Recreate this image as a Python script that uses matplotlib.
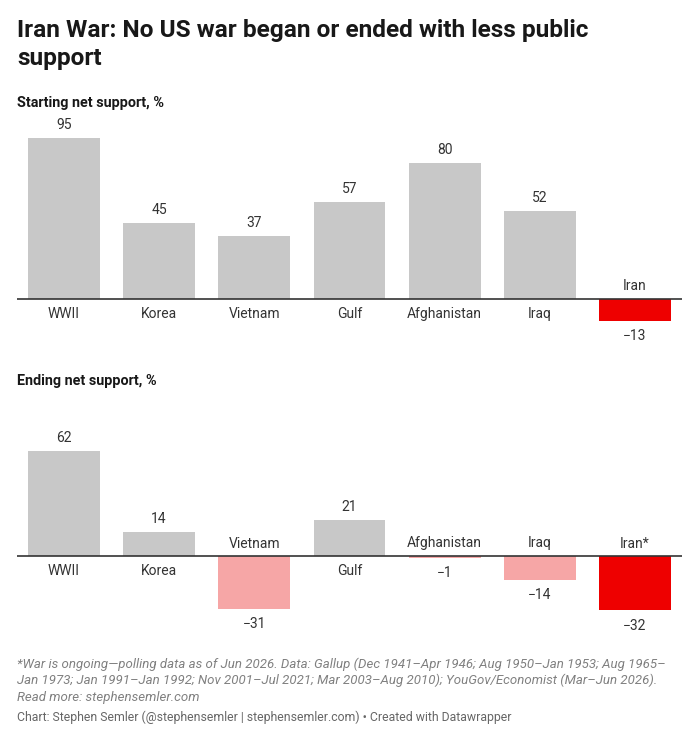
import matplotlib.pyplot as plt

plt.rcParams['font.family'] = ['Roboto', 'DejaVu Sans']

wars = ['WWII', 'Korea', 'Vietnam', 'Gulf', 'Afghanistan', 'Iraq', 'Iran']
start_support = [95, 45, 37, 57, 80, 52, -13]
end_support = [62, 14, -31, 21, -1, -14, -32]
end_labels = ['WWII', 'Korea', 'Vietnam', 'Gulf', 'Afghanistan', 'Iraq', 'Iran*']

W, H = 700, 740
PX_PER_UNIT = 1.695
GRAY = '#c8c8c8'
RED = '#ee0000'
PINK = '#f6a6a6'

fig = plt.figure(figsize=(W / 100, H / 100), dpi=100)


def px_axes(x0, x1, y0, y1):
    # y measured from top of the figure, in pixels
    return fig.add_axes([x0 / W, 1 - y1 / H, (x1 - x0) / W, (y1 - y0) / H])


def panel(top, bottom, base, values, labels):
    ax = px_axes(17, 682, top, bottom)
    cols = []
    for name, v in zip(wars, values):
        if name == 'Iran':
            cols.append(RED)
        elif v < 0:
            cols.append(PINK)
        else:
            cols.append(GRAY)
    x = range(len(values))
    ax.bar(x, values, width=0.756, color=cols, zorder=1)
    ax.axhline(0, color='#333333', lw=1.2, zorder=2)
    ax.set_xlim(-0.494, 6.494)
    ax.set_ylim(-(bottom - base) / PX_PER_UNIT, (base - top) / PX_PER_UNIT)
    ax.axis('off')
    for i, (v, lab) in enumerate(zip(values, labels)):
        txt = str(v).replace('-', '\u2212')
        if v >= 0:
            ax.annotate(txt, (i, v), xytext=(0, 9.5), textcoords='offset points',
                        ha='center', va='center', fontsize=10, color='#333333')
            ax.annotate(lab, (i, 0), xytext=(0, -10.5), textcoords='offset points',
                        ha='center', va='center', fontsize=10, color='#333333')
        else:
            ax.annotate(txt, (i, v), xytext=(0, -11), textcoords='offset points',
                        ha='center', va='center', fontsize=10, color='#333333')
            ax.annotate(lab, (i, 0), xytext=(0, 9), textcoords='offset points',
                        ha='center', va='center', fontsize=10, color='#333333')
    return ax


panel(110, 345, 299, start_support, wars)
panel(400, 635, 556, end_support, end_labels)

fig.text(17 / W, 1 - 30 / H, 'Iran War: No US war began or ended with less public',
         fontsize=17.6, fontweight='bold', va='center', color='#181818')
fig.text(17 / W, 1 - 58 / H, 'support',
         fontsize=17.6, fontweight='bold', va='center', color='#181818')
fig.text(17 / W, 1 - 103 / H, 'Starting net support, %',
         fontsize=10.4, fontweight='bold', va='center', color='#181818')
fig.text(17 / W, 1 - 381 / H, 'Ending net support, %',
         fontsize=10.4, fontweight='bold', va='center', color='#181818')

notes = [
    '*War is ongoing\u2014polling data as of Jun 2026. Data: Gallup (Dec 1941\u2013Apr 1946; Aug 1950\u2013Jan 1953; Aug 1965\u2013',
    'Jan 1973; Jan 1991\u2013Jan 1992; Nov 2001\u2013Jul 2021; Mar 2003\u2013Aug 2010); YouGov/Economist (Mar\u2013Jun 2026).',
    'Read more: stephensemler.com',
]
for k, line in enumerate(notes):
    fig.text(17 / W, 1 - (664 + 16.5 * k) / H, line, fontsize=9.5, style='italic',
             va='center', color='#808080')
fig.text(17 / W, 1 - 717 / H,
         'Chart: Stephen Semler (@stephensemler | stephensemler.com) \u2022 Created with Datawrapper',
         fontsize=8.8, va='center', color='#666666')

fig.savefig('out.png', dpi=100, facecolor='white')
